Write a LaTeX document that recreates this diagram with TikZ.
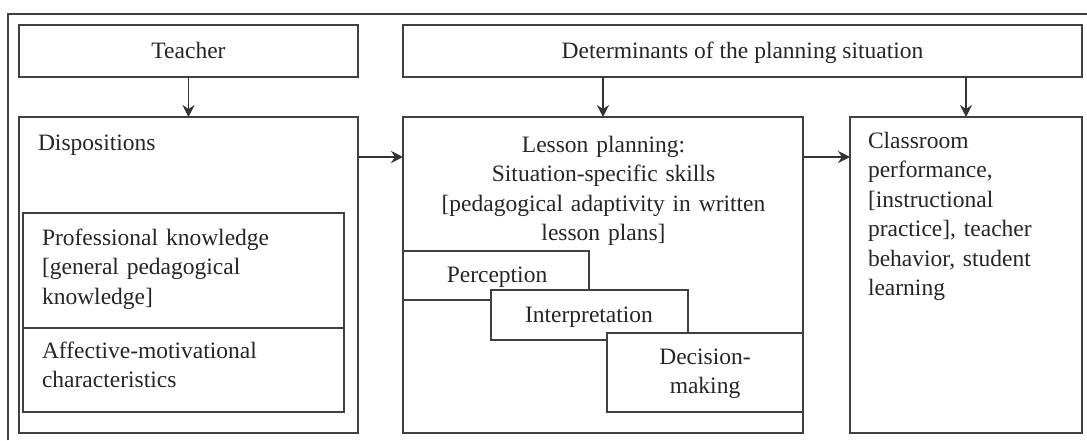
\documentclass[tikz,border=0pt]{standalone}
\usepackage{fontspec}
\setmainfont{Liberation Serif}
\usetikzlibrary{arrows.meta}
\begin{document}
\begin{tikzpicture}[x=1pt,y=-1pt,
  box/.style={draw=black!75,line width=1.3pt,fill=white,anchor=north west,inner sep=0pt,outer sep=0pt},
  txt/.style={inner sep=0pt,outer sep=0pt,text=black!85,font=\fontsize{23.5}{29.5}\selectfont},
  arr/.style={draw=black!80,line width=1.3pt,-{Stealth[length=12pt,width=12pt,inset=4pt]}}]
\useasboundingbox (0,0) rectangle (1087,440);
% outer frame (clipped)
\draw[black!75,line width=1.3pt] (8,440) -- (8,14) -- (1087,14);
% top boxes
\node[box,minimum width=339pt,minimum height=52pt] (teacher) at (19,25) {};
\node[box,minimum width=679pt,minimum height=52pt] (det) at (403,25) {};
\node[txt,anchor=base] (tteacher) at (188.5,58) {Teacher};
\node[txt,anchor=base] (tdet) at (742.5,58) {Determinants of the planning situation};
% main boxes
\node[box,minimum width=339pt,minimum height=316pt] (disp) at (19,117) {};
\node[box,minimum width=400pt,minimum height=316pt] (lesson) at (403,117) {};
\node[box,minimum width=232pt,minimum height=316pt] (class) at (850,117) {};
% dispositions content
\node[txt,anchor=base west] (tdisp) at (38,150) {Dispositions};
\node[box,minimum width=321pt,minimum height=115pt] (prof) at (23,213) {};
\node[box,minimum width=321pt,minimum height=84pt] (aff) at (23,328) {};
\node[txt,anchor=base west,text width=300pt,align=left] (tprof) at (42,245) {Professional knowledge\\{}[general pedagogical\\knowledge]};
\node[txt,anchor=base west,text width=300pt,align=left] (taff) at (42,358) {Affective-motivational\\characteristics};
% lesson planning content
\node[txt,anchor=base,text width=390pt,align=center] (tlesson) at (603.5,152) {Lesson planning:\\Situation-specific skills\\{}[pedagogical adaptivity in written\\lesson plans]};
\node[box,minimum width=186pt,minimum height=49pt] (perc) at (403,251) {};
\node[txt,anchor=base] (tperc) at (497,282) {Perception};
\node[box,minimum width=197pt,minimum height=50pt] (interp) at (491,290) {};
\node[txt,anchor=base] (tinterp) at (589,322) {Interpretation};
\node[box,minimum width=196pt,minimum height=79pt] (dec) at (607,333) {};
\node[txt,anchor=base,text width=190pt,align=center] (tdec) at (705,364) {Decision-\\making};
% classroom content
\node[txt,anchor=base west,text width=210pt,align=left] (tclass) at (868,148) {Classroom\\performance,\\{}[instructional\\practice], teacher\\behavior, student\\learning};
% arrows
\draw[arr] (teacher.south) -- (disp.north);
\draw[arr] (lesson.north |- det.south) -- (lesson.north);
\draw[arr] (class.north |- det.south) -- (class.north);
\draw[arr] ([yshift=-40pt]disp.north east) -- ([yshift=-40pt]lesson.north west);
\draw[arr] ([yshift=-40pt]lesson.north east) -- ([yshift=-40pt]class.north west);
\end{tikzpicture}
\end{document}
